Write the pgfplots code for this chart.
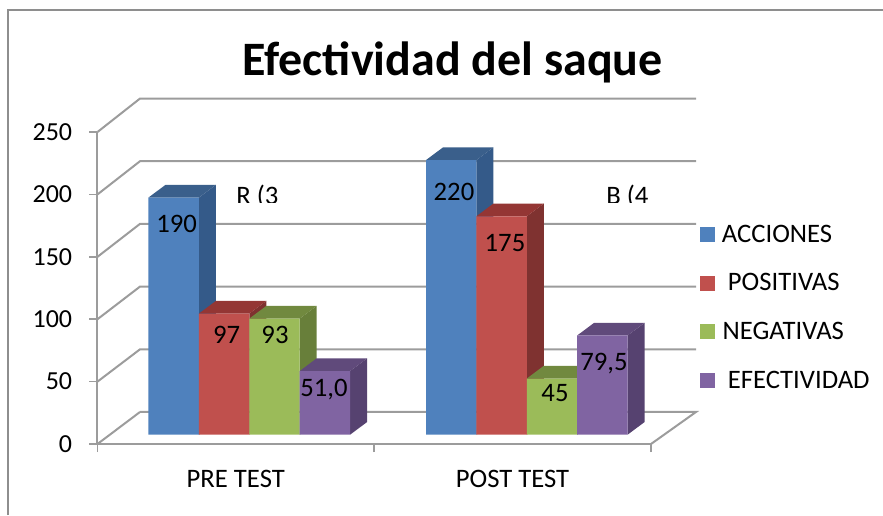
\documentclass[border=0pt]{standalone}
\usepackage{pgfplots}
\usepackage{fontspec}
\setmainfont{Carlito}
\pgfplotsset{compat=1.18}
\definecolor{bF}{HTML}{4F81BD}\definecolor{bS}{HTML}{345A89}\definecolor{bT}{HTML}{3A5F8B}
\definecolor{rF}{HTML}{C0504D}\definecolor{rS}{HTML}{7F3230}\definecolor{rT}{HTML}{943634}
\definecolor{gF}{HTML}{9BBB59}\definecolor{gS}{HTML}{687F3A}\definecolor{gT}{HTML}{71893F}
\definecolor{pF}{HTML}{8064A2}\definecolor{pS}{HTML}{564270}\definecolor{pT}{HTML}{604A7B}
\definecolor{gridc}{HTML}{9C9C9C}
\definecolor{framec}{HTML}{8E8E8E}
\newcommand{\fs}{\fontsize{20pt}{23pt}\selectfont}
\newcommand{\ft}{\fontsize{19.5pt}{23pt}\selectfont}
\pgfplotsset{
  face/.style={forget plot,fill=#1,draw=none,line width=0pt},
  wall/.style={forget plot,draw=gridc,line width=1.5pt,no marks},
  front/.style={ybar,bar width=37.8pt,bar shift=0pt,fill=#1,draw=none,
    legend image code/.code={\fill[fill=#1] (0pt,-5.6pt) rectangle (11.25pt,5.6pt);}},
}
\begin{document}
\begin{tikzpicture}[x=0.75pt,y=0.75pt]
\useasboundingbox (0,0) rectangle (883,515);
\draw[framec,line width=1.1pt] (8,0) -- (8,505) -- (883,505);
\begin{axis}[
  at={(73.125pt,53.25pt)},anchor=south west,
  scale only axis,width=415.125pt,height=234pt,
  xmin=97.5,xmax=651,ymin=-7.45,ymax=242.5,
  clip=false,
  axis x line=bottom,axis y line=left,
  axis line style={-,draw=gridc,line width=1.5pt},
  xtick={235.75,512.5},xticklabels={PRE TEST,POST TEST},
  minor xtick={97.5,374.25,651},
  ytick={-7.45,42.53,92.52,142.5,192.5,242.5},
  yticklabels={0,50,100,150,200,250},
  tick style={draw=gridc,line width=1.2pt},
  major tick length=6pt,minor tick length=6pt,
  x tick style={/pgfplots/major tick length=0pt},
  tick align=outside,
  ticklabel style={text=black},
  yticklabel style={font=\ft,xshift=-9.5pt},
  xticklabel style={font=\fs,yshift=-10pt},
  legend cell align=left,
  legend style={at={(1.0885,0.712)},anchor=north west,draw=none,fill=none,
    font=\fs,row sep=18pt,inner sep=0pt},
]
% floor and back wall
\addplot[wall] coordinates {(140,18.2)(696,18.2)(651,-7.45)};
\addplot[wall] coordinates {(97.5,-7.45)(140,18.2)};
\addplot[wall] coordinates {(97.5,42.53)(140,68.4)(696,68.4)};
\addplot[wall] coordinates {(97.5,92.52)(140,118.65)(696,118.65)};
\addplot[wall] coordinates {(97.5,142.5)(140,168.9)(696,168.9)};
\addplot[wall] coordinates {(97.5,192.5)(140,219.1)(696,219.1)};
\addplot[wall] coordinates {(97.5,242.5)(140,269.3)(696,269.3)};
% ACCIONES
\addplot[face=bS] coordinates {(198.9,0)(215.9,10.17)(215.9,200.17)(198.9,190)} -- cycle;
\addplot[face=bT] coordinates {(148.5,190)(165.5,200.17)(215.9,200.17)(198.9,190)} -- cycle;
\addplot[face=bS] coordinates {(476.4,0)(493.4,10.17)(493.4,230.17)(476.4,220)} -- cycle;
\addplot[face=bT] coordinates {(426,220)(443,230.17)(493.4,230.17)(476.4,220)} -- cycle;
\addplot[front=bF] coordinates {(173.7,190)(451.2,220)};
\addlegendentry{\hspace{3pt}ACCIONES}
% POSITIVAS
\addplot[face=rS] coordinates {(249.3,0)(266.3,10.17)(266.3,107.17)(249.3,97)} -- cycle;
\addplot[face=rT] coordinates {(198.9,97)(215.9,107.17)(266.3,107.17)(249.3,97)} -- cycle;
\addplot[face=rS] coordinates {(526.8,0)(543.8,10.17)(543.8,185.17)(526.8,175)} -- cycle;
\addplot[face=rT] coordinates {(476.4,175)(493.4,185.17)(543.8,185.17)(526.8,175)} -- cycle;
\addplot[front=rF] coordinates {(224.1,97)(501.6,175)};
\addlegendentry{\hspace{7.5pt}POSITIVAS}
% NEGATIVAS
\addplot[face=gS] coordinates {(299.7,0)(316.7,10.17)(316.7,103.17)(299.7,93)} -- cycle;
\addplot[face=gT] coordinates {(249.3,93)(266.3,103.17)(316.7,103.17)(299.7,93)} -- cycle;
\addplot[face=gS] coordinates {(577.2,0)(594.2,10.17)(594.2,55.17)(577.2,45)} -- cycle;
\addplot[face=gT] coordinates {(526.8,45)(543.8,55.17)(594.2,55.17)(577.2,45)} -- cycle;
\addplot[front=gF] coordinates {(274.5,93)(552,45)};
\addlegendentry{\hspace{3.5pt}NEGATIVAS}
% EFECTIVIDAD
\addplot[face=pS] coordinates {(350.1,0)(367.1,10.17)(367.1,61.17)(350.1,51)} -- cycle;
\addplot[face=pT] coordinates {(299.7,51)(316.7,61.17)(367.1,61.17)(350.1,51)} -- cycle;
\addplot[face=pS] coordinates {(627.6,0)(644.6,10.17)(644.6,89.67)(627.6,79.5)} -- cycle;
\addplot[face=pT] coordinates {(577.2,79.5)(594.2,89.67)(644.6,89.67)(627.6,79.5)} -- cycle;
\addplot[front=pF] coordinates {(324.9,51)(602.4,79.5)};
\addlegendentry{\hspace{7.5pt}EFECTIVIDAD}
\end{axis}
\node[anchor=base,font=\bfseries\fontsize{36pt}{42pt}\selectfont,inner sep=0pt] at (452.5,439) {Efectividad del saque};
\foreach \x/\y/\t in {176.7/291.5/190,226.7/180/97,275/180/93,324/125/{51,0},454/323.3/220,505/271.7/175,555/122/45,604/151/{79,5}}
  \node[font=\fs,inner sep=0pt] at (\x,\y) {\t};
\begin{scope}
\clip (225,312) rectangle (295,335);
\node[anchor=base west,font=\fs,inner sep=0pt] at (236,310) {R (3};
\end{scope}
\begin{scope}
\clip (595,312) rectangle (665,335);
\node[anchor=base west,font=\fs,inner sep=0pt] at (606,310) {B (4};
\end{scope}
\end{tikzpicture}
\end{document}
